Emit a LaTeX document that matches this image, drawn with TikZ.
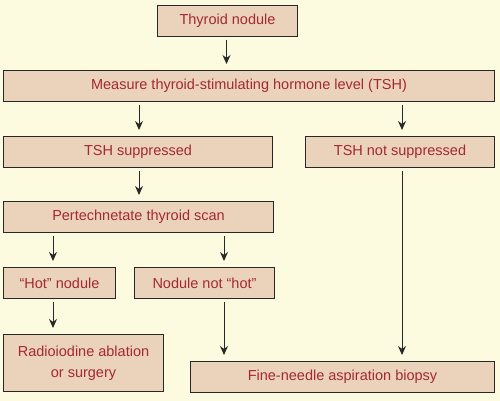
\documentclass[tikz,border=0pt]{standalone}
\usepackage{fontspec}
\setmainfont{Liberation Sans}
\usetikzlibrary{arrows.meta, positioning, calc}
\definecolor{mybg}{RGB}{252,251,224}
\definecolor{myfill}{RGB}{234,211,186}
\definecolor{myred}{RGB}{165,40,52}
\definecolor{mydark}{RGB}{40,40,40}
\tikzset{
  block/.style={rectangle, draw=mydark, fill=myfill, anchor=north west,
    inner sep=0pt, align=center, text=myred,
    font=\fontsize{14.5}{21}\selectfont, line width=1pt},
  arrow/.style={-{Stealth[length=9pt, width=8pt]}, line width=1pt,
    color=mydark, shorten <=3pt, shorten >=6pt}
}

\begin{document}
\begin{tikzpicture}[x=1pt, y=-1pt]
  % background
  \fill[mybg] (0,0) rectangle (500,401);

  % Boxes
  \node[block, minimum width=140, minimum height=31] (nodule) at (157,5) {Thyroid nodule};
  \node[block, minimum width=491, minimum height=31] (measure) at (3,70) {Measure thyroid-stimulating hormone level (TSH)};
  \node[block, minimum width=269, minimum height=31] (supp) at (3,136) {TSH suppressed};
  \node[block, minimum width=189, minimum height=31] (notsupp) at (305,136) {TSH not suppressed};
  \node[block, minimum width=270, minimum height=31] (pert) at (3,201) {Pertechnetate thyroid scan};
  \node[block, minimum width=112, minimum height=31] (hot) at (3,267) {``Hot'' nodule};
  \node[block, minimum width=140, minimum height=31] (nothot) at (134,267) {Nodule not ``hot''};
  \node[block, minimum width=160, minimum height=57] (ablation) at (3,334) {Radioiodine ablation\\or surgery};
  \node[block, minimum width=304, minimum height=31] (fna) at (190,361) {Fine-needle aspiration biopsy};

  % Arrows
  \draw[arrow] ([xshift=-1]nodule.south) -- ([xshift=-1]nodule.south |- measure.north);
  \draw[arrow] ([xshift=136]measure.south west) -- ([xshift=136]supp.north west);
  \draw[arrow] ([xshift=97]notsupp.north west |- measure.south) -- ([xshift=97]notsupp.north west);
  \draw[arrow] ([xshift=136]supp.south west) -- ([xshift=136]pert.north west);
  \draw[arrow] ([xshift=50]pert.south west) -- ([xshift=50]hot.north west);
  \draw[arrow] ([xshift=221]pert.south west) -- ([xshift=90]nothot.north west);
  \draw[arrow] ([xshift=50]hot.south west) -- ([xshift=50]ablation.north west);
  \draw[arrow] ([xshift=90]nothot.south west) -- ([xshift=34]fna.north west);
  \draw[arrow] ([xshift=97]notsupp.south west) -- ([xshift=212]fna.north west);
\end{tikzpicture}
\end{document}
